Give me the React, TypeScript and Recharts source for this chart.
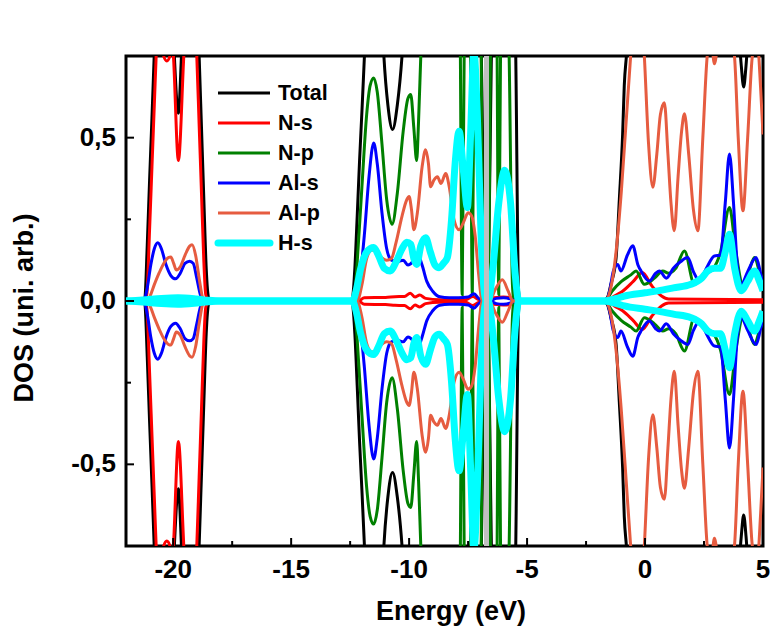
import { LineChart, Line, XAxis, YAxis, ReferenceLine, ReferenceArea, Legend, Label } from 'recharts'

type Pt = [number, number]

// [energy (eV), DOS] pairs, spin-up branch; spin-down is drawn mirrored
const TOTAL: Pt[] = [
  [-22, 0], [-21.3, 0], [-21.2, 0.01], [-21.1, 0.17], [-21.0, 0.37], [-20.9, 0.56], [-20.8, 0.76],
  [-20.6, 1.15], [-20.3, 1.3], [-20.1, 1.05], [-19.95, 0.75], [-19.78, 0.575], [-19.65, 0.75],
  [-19.45, 1.15], [-19.2, 1.2], [-19.0, 0.95], [-18.9, 0.75], [-18.8, 0.53], [-18.7, 0.31],
  [-18.6, 0.1], [-18.5, 0.01], [-18.4, 0],
  [-12.5, 0], [-12.4, 0.01], [-12.3, 0.1], [-12.2, 0.26], [-12.1, 0.43], [-12.0, 0.58], [-11.9, 0.74],
  [-11.7, 1.05], [-11.4, 1.2], [-11.2, 0.95], [-11.07, 0.75], [-10.9, 0.6], [-10.7, 0.525],
  [-10.5, 0.6], [-10.3, 0.75], [-10.1, 1.0], [-9.8, 1.3], [-7.2, 1.4], [-6.95, 0.8], [-6.78, 0.05],
  [-6.72, 0], [-6.66, 0.05], [-6.5, 0.8], [-6.3, 1.3], [-5.7, 1.3], [-5.48, 0.75], [-5.36, 0.03],
  [-5.3, 0],
  [-1.8, 0], [-1.6, 0.01], [-1.45, 0.05], [-1.23, 0.13], [-1.09, 0.31], [-0.95, 0.51], [-0.88, 0.66],
  [-0.78, 0.76], [-0.5, 1.2], [0.5, 1.5], [3.6, 1.4], [3.95, 0.85], [4.08, 0.72], [4.18, 0.655],
  [4.28, 0.72], [4.4, 0.85], [5, 1.2],
]

const N_S: Pt[] = [
  [-22, 0], [-21.25, 0], [-21.12, 0.02], [-21.0, 0.22], [-20.9, 0.41], [-20.8, 0.6], [-20.7, 0.79],
  [-20.58, 0.95], [-20.44, 0.76], [-20.27, 0.735], [-20.1, 0.76], [-20.04, 0.8], [-19.99, 0.75],
  [-19.78, 0.43], [-19.55, 0.75], [-19.4, 0.95], [-19.2, 0.95], [-19.0, 0.75], [-18.9, 0.54],
  [-18.8, 0.33], [-18.7, 0.12], [-18.62, 0.02], [-18.5, 0],
  [-12.15, 0], [-11.9, 0.01], [-11.0, 0.011], [-10.6, 0.013], [-10.2, 0.014], [-9.95, 0.024],
  [-9.75, 0.012], [-9.55, 0.018], [-9.3, 0.008], [-8.7, 0.004], [-7.6, 0.004], [-7.3, 0.014],
  [-7.05, 0.004], [-6.85, 0],
  [-6.6, 0], [-6.4, 0.01], [-6.0, 0.012], [-5.7, 0.01], [-5.55, 0],
  [-1.6, 0], [-1.3, 0.015], [-0.95, 0.03], [-0.5, 0.06], [-0.12, 0.087], [0.3, 0.045], [0.7, 0.015],
  [1.0, 0.006], [5, 0.004],
]

const N_P: Pt[] = [
  [-22, 0], [-21.2, 0], [-20.5, 0.006], [-19.8, 0.008], [-19.0, 0.004], [-18.7, 0],
  [-12.45, 0], [-12.3, 0.03], [-12.2, 0.12], [-12.0, 0.35], [-11.8, 0.57], [-11.65, 0.66],
  [-11.5, 0.683], [-11.35, 0.64], [-11.15, 0.48], [-10.95, 0.31], [-10.72, 0.235], [-10.5, 0.33],
  [-10.25, 0.52], [-10.05, 0.62], [-9.93, 0.632], [-9.8, 0.53], [-9.68, 0.43], [-9.6, 0.55],
  [-9.5, 0.76], [-9.3, 1.1], [-8.1, 1.2], [-7.86, 1.0], [-7.75, 0.02], [-7.64, 1.0], [-7.5, 1.2],
  [-7.42, 1.0], [-7.32, 0.02], [-7.22, 1.0], [-7.05, 1.1], [-6.95, 0.8], [-6.86, 0.03], [-6.8, 0],
  [-6.64, 0], [-6.56, 0.7], [-6.45, 1.1], [-6.3, 1.0], [-6.2, 0.02], [-6.1, 1.0], [-5.9, 1.1],
  [-5.76, 0.75], [-5.62, 0.05], [-5.55, 0],
  [-1.7, 0], [-1.4, 0.03], [-1.0, 0.06], [-0.6, 0.08], [-0.38, 0.092], [-0.03, 0.051], [0.4, 0.07],
  [0.75, 0.092], [1.0, 0.085], [1.3, 0.1], [1.67, 0.153], [2.09, 0.051], [2.5, 0.08], [2.9, 0.1],
  [3.2, 0.15], [3.58, 0.286], [3.85, 0.15], [4.15, 0.051], [4.4, 0.09], [4.64, 0.133], [4.85, 0.09],
  [5.0, 0.061],
]

const AL_S: Pt[] = [
  [-22, 0], [-21.25, 0], [-21.1, 0.04], [-20.95, 0.11], [-20.8, 0.16], [-20.65, 0.178], [-20.5, 0.16],
  [-20.3, 0.11], [-20.1, 0.078], [-19.9, 0.068], [-19.7, 0.085], [-19.5, 0.115], [-19.3, 0.122],
  [-19.15, 0.115], [-19.0, 0.07], [-18.85, 0.02], [-18.7, 0],
  [-12.3, 0], [-12.1, 0.06], [-11.9, 0.2], [-11.7, 0.38], [-11.5, 0.484], [-11.35, 0.42],
  [-11.15, 0.27], [-10.95, 0.16], [-10.75, 0.125], [-10.5, 0.12], [-10.25, 0.125], [-10.05, 0.11],
  [-9.85, 0.12], [-9.65, 0.145], [-9.45, 0.11], [-9.25, 0.06], [-9.0, 0.03], [-8.7, 0.013],
  [-8.3, 0.01], [-7.9, 0.01], [-7.5, 0.012], [-7.25, 0.022], [-7.05, 0.008], [-6.85, 0],
  [-6.6, 0], [-6.3, 0.008], [-6.0, 0.01], [-5.7, 0.006], [-5.5, 0],
  [-1.65, 0], [-1.5, 0.03], [-1.35, 0.09], [-1.16, 0.112], [-1.02, 0.092], [-0.75, 0.14],
  [-0.52, 0.169], [-0.3, 0.11], [-0.17, 0.092], [0.18, 0.061], [0.45, 0.085], [0.61, 0.092],
  [0.9, 0.07], [1.2, 0.1], [1.5, 0.12], [1.81, 0.133], [2.05, 0.09], [2.31, 0.061], [2.6, 0.1],
  [2.94, 0.138], [3.2, 0.14], [3.4, 0.3], [3.58, 0.45], [3.75, 0.3], [3.9, 0.12], [4.08, 0.051],
  [4.35, 0.09], [4.71, 0.133], [4.88, 0.09], [5.0, 0.05],
]

const AL_P: Pt[] = [
  [-22, 0], [-21.15, 0], [-21.0, 0.012], [-20.8, 0.05], [-20.6, 0.085], [-20.4, 0.115], [-20.2, 0.133],
  [-20.1, 0.135], [-19.98, 0.115], [-19.87, 0.095], [-19.7, 0.105], [-19.5, 0.14], [-19.3, 0.168],
  [-19.2, 0.172], [-19.05, 0.14], [-18.9, 0.07], [-18.75, 0.01], [-18.65, 0],
  [-12.2, 0], [-12.0, 0.05], [-11.8, 0.13], [-11.6, 0.155], [-11.45, 0.156], [-11.2, 0.135],
  [-10.95, 0.125], [-10.75, 0.13], [-10.55, 0.18], [-10.3, 0.26], [-10.1, 0.31], [-10.0, 0.32],
  [-9.9, 0.28], [-9.8, 0.218], [-9.65, 0.27], [-9.45, 0.41], [-9.3, 0.463], [-9.18, 0.42],
  [-9.09, 0.35], [-8.95, 0.37], [-8.8, 0.38], [-8.65, 0.36], [-8.45, 0.39], [-8.3, 0.35],
  [-8.1, 0.25], [-7.88, 0.218], [-7.7, 0.24], [-7.5, 0.27], [-7.35, 0.26], [-7.2, 0.2],
  [-7.05, 0.08], [-6.9, 0],
  [-6.6, 0], [-6.35, 0.035], [-6.05, 0.065], [-5.8, 0.03], [-5.6, 0],
  [-1.7, 0], [-1.45, 0.04], [-1.2, 0.17], [-1.0, 0.34], [-0.8, 0.55], [-0.6, 0.76], [-0.4, 0.95],
  [-0.2, 0.95], [-0.03, 0.75], [0.15, 0.48], [0.33, 0.348], [0.5, 0.45], [0.65, 0.57], [0.82, 0.607],
  [0.97, 0.45], [1.1, 0.3], [1.24, 0.215], [1.4, 0.38], [1.55, 0.52], [1.67, 0.573], [1.85, 0.45],
  [2.05, 0.28], [2.24, 0.215], [2.45, 0.5], [2.65, 0.76], [2.8, 0.8], [2.94, 0.726], [3.1, 0.8],
  [3.4, 0.95], [3.65, 0.8], [3.79, 0.75], [3.95, 0.5], [4.15, 0.276], [4.35, 0.5], [4.55, 0.75],
  [4.75, 0.8], [4.9, 0.65], [5.0, 0.51],
]

const H_S: Pt[] = [
  [-22, 0], [-21.3, 0.003], [-20.5, 0.008], [-19.8, 0.01], [-19.0, 0.006], [-18.5, 0.002], [-18.0, 0],
  [-12.4, 0], [-12.25, 0.03], [-12.05, 0.1], [-11.8, 0.15], [-11.5, 0.164], [-11.3, 0.14],
  [-11.05, 0.1], [-10.8, 0.092], [-10.55, 0.12], [-10.3, 0.16], [-10.1, 0.18], [-9.93, 0.174],
  [-9.8, 0.13], [-9.68, 0.112], [-9.5, 0.17], [-9.3, 0.194], [-9.1, 0.15], [-8.9, 0.11],
  [-8.73, 0.102], [-8.55, 0.115], [-8.38, 0.133], [-8.2, 0.25], [-8.05, 0.42], [-7.88, 0.52],
  [-7.7, 0.4], [-7.53, 0.286], [-7.4, 0.5], [-7.25, 0.76], [-7.1, 0.55], [-6.95, 0.2], [-6.8, 0.02],
  [-6.72, 0],
  [-6.65, 0], [-6.45, 0.1], [-6.2, 0.3], [-5.95, 0.4], [-5.7, 0.3], [-5.5, 0.08], [-5.35, 0],
  [-1.7, 0], [-1.2, 0.008], [-0.88, 0.015], [0, 0.025], [0.54, 0.031], [1.2, 0.04], [1.95, 0.051],
  [2.4, 0.07], [2.66, 0.092], [2.95, 0.1], [3.2, 0.1], [3.4, 0.15], [3.58, 0.204], [3.8, 0.1],
  [4.08, 0.031], [4.35, 0.06], [4.64, 0.092], [4.85, 0.06], [5.0, 0.031],
]

const X_TICKS = [-20, -17.5, -15, -12.5, -10, -7.5, -5, -2.5, 0, 2.5, 5]
const Y_TICKS = [-0.5, -0.25, 0, 0.25, 0.5]
const FERMI = -6.72

const SERIES = [
  { key: 'total', name: 'Total', color: '#000000', width: 3, points: TOTAL },
  { key: 'ns', name: 'N-s', color: '#ff0000', width: 3, points: N_S },
  { key: 'np', name: 'N-p', color: '#008000', width: 3, points: N_P },
  { key: 'als', name: 'Al-s', color: '#0000ff', width: 3, points: AL_S },
  { key: 'alp', name: 'Al-p', color: '#e65c40', width: 3, points: AL_P },
  { key: 'hs', name: 'H-s', color: '#00ffff', width: 7, points: H_S },
]

const FONT = '"Liberation Sans", Arial, sans-serif'
const PLOT = { left: 126, right: 763, top: 56, bottom: 546 }

function toRows(points: Pt[], sign: number) {
  return points.map(([e, v]) => ({ e, v: sign * v }))
}

function isMajorX(v: number) {
  return Math.abs(v % 5) < 1e-9
}

function isMajorY(v: number) {
  return Math.abs(v * 2 - Math.round(v * 2)) < 1e-9
}

function BottomTick({ x, y, payload }: any) {
  const major = isMajorX(payload.value)
  return (
    <g>
      <line x1={x} x2={x} y1={y} y2={y - (major ? 8 : 5)} stroke="#000" strokeWidth={2} />
      {major && (
        <text x={x} y={y + 32} textAnchor="middle" fontSize={26} fontWeight="bold" fontFamily={FONT} fill="#000">
          {payload.value}
        </text>
      )}
    </g>
  )
}

function TopTick({ x, y, payload }: any) {
  const major = isMajorX(payload.value)
  return <line x1={x} x2={x} y1={y} y2={y + (major ? 8 : 5)} stroke="#000" strokeWidth={2} />
}

function LeftTick({ x, y, payload }: any) {
  const major = isMajorY(payload.value)
  return (
    <g>
      <line x1={x} x2={x + (major ? 8 : 5)} y1={y} y2={y} stroke="#000" strokeWidth={2} />
      {major && (
        <text x={x - 10} y={y + 8} textAnchor="end" fontSize={26} fontWeight="bold" fontFamily={FONT} fill="#000">
          {payload.value.toFixed(1).replace('.', ',')}
        </text>
      )}
    </g>
  )
}

function RightTick({ x, y, payload }: any) {
  const major = isMajorY(payload.value)
  return <line x1={x} x2={x - (major ? 8 : 5)} y1={y} y2={y} stroke="#000" strokeWidth={2} />
}

function LegendBox() {
  return (
    <svg width={140} height={180}>
      {SERIES.map((s, i) => (
        <g key={s.key}>
          <line
            x1={6}
            x2={58}
            y1={15 + i * 30}
            y2={15 + i * 30}
            stroke={s.color}
            strokeWidth={s.key === 'hs' ? 7 : 3}
            strokeLinecap={s.key === 'hs' ? 'round' : 'butt'}
          />
          <text x={66} y={22 + i * 30} fontSize={21.5} fontWeight="bold" fontFamily={FONT} fill="#000">
            {s.name}
          </text>
        </g>
      ))}
    </svg>
  )
}

export default function App() {
  return (
    <div style={{ position: 'absolute', left: 0, top: 0, width: 770, height: 631, background: '#fff' }}>
      <LineChart width={770} height={631} margin={{ top: PLOT.top, right: 770 - PLOT.right, bottom: 0, left: 0 }}>
        <XAxis
          dataKey="e"
          type="number"
          domain={[-22, 5]}
          allowDataOverflow
          ticks={X_TICKS}
          interval={0}
          height={631 - PLOT.bottom}
          tickSize={0}
          tickMargin={0}
          axisLine={false}
          tickLine={false}
          tick={BottomTick}
        >
          <Label
            content={() => (
              <text x={451} y={620} textAnchor="middle" fontSize={27} fontWeight="bold" fontFamily={FONT} fill="#000">
                Energy (eV)
              </text>
            )}
          />
        </XAxis>
        <XAxis
          xAxisId="top"
          orientation="top"
          dataKey="e"
          type="number"
          domain={[-22, 5]}
          allowDataOverflow
          ticks={X_TICKS}
          interval={0}
          height={0}
          tickSize={0}
          tickMargin={0}
          axisLine={false}
          tickLine={false}
          tick={TopTick}
        >
          <Label
            content={() => (
              <text x={456} y={39} textAnchor="middle" fontSize={26.5} fontWeight="bold" fontFamily={FONT} fill="#000">
                h-Al2HN-Alt
              </text>
            )}
          />
        </XAxis>
        <YAxis
          type="number"
          domain={[-0.75, 0.75]}
          allowDataOverflow
          ticks={Y_TICKS}
          interval={0}
          width={PLOT.left}
          tickSize={0}
          tickMargin={0}
          axisLine={false}
          tickLine={false}
          tick={LeftTick}
        >
          <Label
            content={() => (
              <text
                x={33}
                y={308}
                transform="rotate(-90 33 308)"
                textAnchor="middle"
                fontSize={27}
                fontWeight="bold"
                fontFamily={FONT}
                fill="#000"
              >
                DOS (uni. arb.)
              </text>
            )}
          />
        </YAxis>
        <YAxis
          yAxisId="right"
          orientation="right"
          type="number"
          domain={[-0.75, 0.75]}
          allowDataOverflow
          ticks={Y_TICKS}
          interval={0}
          width={0}
          tickSize={0}
          tickMargin={0}
          axisLine={false}
          tickLine={false}
          tick={RightTick}
        />

        {SERIES.flatMap((s) =>
          [1, -1].map((sign) => (
            <Line
              key={s.key + sign}
              name={s.name}
              data={toRows(s.points, sign)}
              dataKey="v"
              type="monotone"
              stroke={s.color}
              strokeWidth={s.width}
              dot={false}
              activeDot={false}
              legendType={sign > 0 ? 'line' : 'none'}
              isAnimationActive={false}
            />
          ))
        )}

        <ReferenceLine x={FERMI} stroke="#c0c0c0" strokeWidth={5} />
        <ReferenceArea x1={-22} x2={5} y1={-0.75} y2={0.75} fill="none" stroke="#000" strokeWidth={3} />
        <Legend
          layout="vertical"
          verticalAlign="middle"
          align="center"
          content={() => <LegendBox />}
          wrapperStyle={{ left: 212, top: 78, width: 140, height: 180 }}
        />
      </LineChart>
    </div>
  )
}
